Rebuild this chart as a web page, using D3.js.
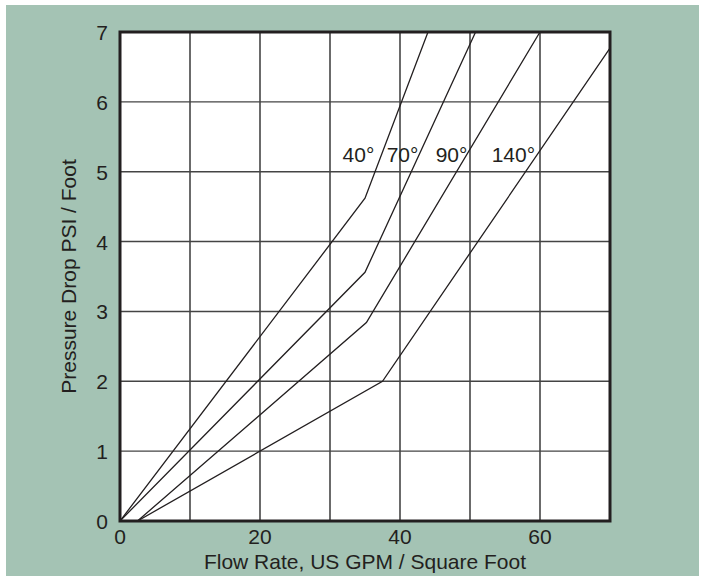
<!DOCTYPE html>
<html>
<head>
<meta charset="utf-8">
<script src="https://cdn.jsdelivr.net/npm/d3@7"></script>
<style>
  body { margin: 0; background: #fff; }
  text { font-family: "Liberation Sans", Arial, sans-serif; fill: #231f20; font-size: 21px; }
</style>
</head>
<body>
<script>
// curves: pressure drop vs flow rate, one per temperature
var labels = ["40°", "70°", "90°", "140°"];
var flow40 = [0, 35, 44], psi40 = [0, 4.62, 7];
var flow70 = [0, 35, 50.8], psi70 = [0, 3.56, 7];
var flow90 = [2.5, 35.2, 60], psi90 = [0, 2.84, 7];
var flow140 = [2.5, 37.5, 70], psi140 = [0, 2.0, 6.77];
var xTicks = [0, 20, 40, 60];
var yTicks = [0, 1, 2, 3, 4, 5, 6, 7];
// where the temperature labels sit (data units)
var labelX = [31.8, 38.1, 45.1, 53.1];
var labelY = [5.14, 5.14, 5.14, 5.14];

var series = [[flow40, psi40], [flow70, psi70], [flow90, psi90], [flow140, psi140]];

var svg = d3.select("body").append("svg")
    .attr("width", 705)
    .attr("height", 581);

svg.append("rect")
    .attr("x", 6).attr("y", 5)
    .attr("width", 693).attr("height", 571)
    .style("fill", "#a4c3b4");

var x = d3.scaleLinear().domain([0, 70]).range([120, 610]);
var y = d3.scaleLinear().domain([0, 7]).range([521, 32]);

svg.append("rect")
    .attr("x", x(0)).attr("y", y(7))
    .attr("width", x(70) - x(0)).attr("height", y(0) - y(7))
    .style("fill", "#fff");

// grid
svg.selectAll("line.vg")
    .data(d3.range(10, 70, 10))
    .enter().append("line")
    .attr("x1", function (d) { return x(d); })
    .attr("x2", function (d) { return x(d); })
    .attr("y1", y(0)).attr("y2", y(7))
    .style("stroke", "#2b2b2b").style("stroke-width", 1.4);

svg.selectAll("line.hg")
    .data(d3.range(1, 7))
    .enter().append("line")
    .attr("y1", function (d) { return y(d); })
    .attr("y2", function (d) { return y(d); })
    .attr("x1", x(0)).attr("x2", x(70))
    .style("stroke", "#444").style("stroke-width", 1.4);

// curves
var line = d3.line()
    .x(function (d) { return x(d[0]); })
    .y(function (d) { return y(d[1]); });

svg.append("clipPath").attr("id", "plot")
    .append("rect")
    .attr("x", x(0)).attr("y", y(7))
    .attr("width", x(70) - x(0)).attr("height", y(0) - y(7));

svg.selectAll("path.curve")
    .data(series)
    .enter().append("path")
    .attr("clip-path", "url(#plot)")
    .attr("d", function (s) { return line(d3.zip(s[0], s[1])); })
    .style("fill", "none")
    .style("stroke", "#231f20")
    .style("stroke-width", 1.3);

// frame
svg.append("rect")
    .attr("x", x(0)).attr("y", y(7))
    .attr("width", x(70) - x(0)).attr("height", y(0) - y(7))
    .style("fill", "none")
    .style("stroke", "#231f20")
    .style("stroke-width", 3);

// tick labels
svg.selectAll("text.yt")
    .data(yTicks)
    .enter().append("text")
    .attr("x", 108)
    .attr("y", function (d) { return y(d) + 8; })
    .attr("text-anchor", "end")
    .text(function (d) { return d; });

svg.selectAll("text.xt")
    .data(xTicks)
    .enter().append("text")
    .attr("x", function (d) { return x(d); })
    .attr("y", 544)
    .attr("text-anchor", "middle")
    .text(function (d) { return d; });

// curve labels
svg.selectAll("text.lab")
    .data(labels)
    .enter().append("text")
    .attr("x", function (d, i) { return x(labelX[i]); })
    .attr("y", function (d, i) { return y(labelY[i]); })
    .text(function (d) { return d; });

// axis titles
svg.append("text")
    .attr("x", 365).attr("y", 569)
    .attr("text-anchor", "middle")
    .text("Flow Rate, US GPM / Square Foot");

svg.append("text")
    .attr("transform", "translate(76," + ((y(0) + y(7)) / 2) + ") rotate(-90)")
    .attr("text-anchor", "middle")
    .text("Pressure Drop PSI / Foot");
</script>
</body>
</html>
